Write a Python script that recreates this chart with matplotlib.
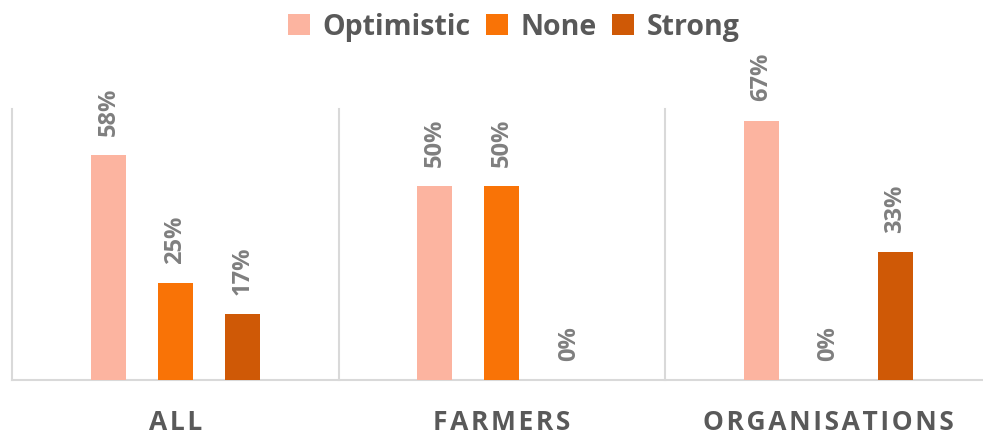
import matplotlib
matplotlib.use("Agg")
import matplotlib.pyplot as plt
import numpy as np

categories = ["ALL", "FARMERS", "ORGANISATIONS"]
series_names = ["Optimistic", "None", "Strong"]
optimistic = [0.58, 0.50, 0.67]
none_vals = [0.25, 0.50, 0.00]
strong = [0.17, 0.00, 0.33]
series_values = [optimistic, none_vals, strong]
colors = ["#FCB4A0", "#F97306", "#CF5906"]

plt.rcParams['font.family'] = ['Open Sans', 'DejaVu Sans']

fig = plt.figure(figsize=(9.83, 4.36), dpi=100)
W, H = 983, 436
left, right, bottom, top = 12, 991.5, 380, 109
ax = fig.add_axes([left / W, 1 - bottom / H, (right - left) / W, (bottom - top) / H])

x = np.arange(len(categories))
width = 0.107
offsets = [-0.205, 0.0, 0.205]
for vals, name, col, off in zip(series_values, series_names, colors, offsets):
    bars = ax.bar(x + off, vals, width, color=col, label=name, zorder=3)
    for xi, v in zip(x + off, vals):
        ax.annotate(f"{round(v*100):d}%", xy=(xi, v), xytext=(0, 14),
                    textcoords="offset points", rotation=90, ha="center", va="bottom",
                    fontsize=17, fontweight="bold", color="#7F7F7F",
                    annotation_clip=False)

ax.set_xlim(-0.5, 2.5)
ax.set_ylim(0, 0.70)
for s in ["top", "right", "left"]:
    ax.spines[s].set_visible(False)
ax.spines["bottom"].set_color("#D9D9D9")
ax.spines["bottom"].set_linewidth(1.5)
for sep in [-0.5, 0.5, 1.5, 2.5]:
    ax.axvline(sep, color="#D9D9D9", linewidth=1.5, zorder=1, clip_on=False)
ax.set_yticks([])
ax.set_xticks(x)
spaced = ["\u200a".join(list(c)) for c in categories]
ax.set_xticklabels(spaced, fontsize=19, fontweight="bold", color="#595959")
ax.tick_params(axis="x", length=0, pad=21)

leg = fig.legend(loc="upper center", bbox_to_anchor=(514 / W, 1.03), ncol=3, frameon=False,
                 prop={"size": 20.5, "weight": "bold"}, handlelength=0.75, handleheight=0.75,
                 handletextpad=0.45, columnspacing=0.55)
for t in leg.get_texts():
    t.set_color("#595959")

fig.savefig("out.png", dpi=100)
